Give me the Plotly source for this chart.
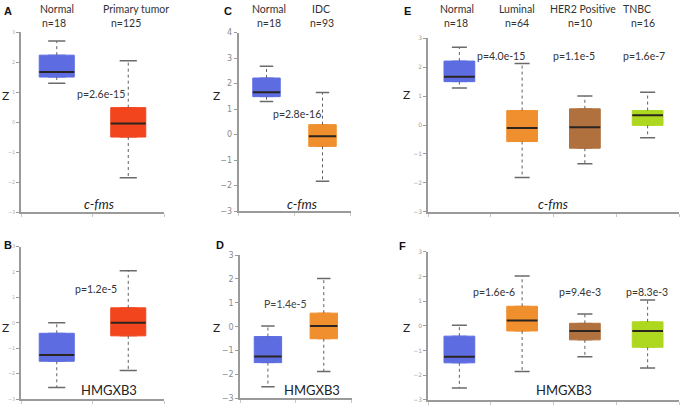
import plotly.graph_objects as go

W, H = 681, 411

# ---- data ----
# panel A : c-fms, normal vs primary tumor
a_groups = ["Normal", "Primary tumor"]
a_n = [18, 125]
a_lo = [1.30, -1.85]
a_q1 = [1.51, -0.49]
a_med = [1.68, -0.04]
a_q3 = [2.24, 0.49]
a_hi = [2.71, 2.05]

# panel B : HMGXB3, normal vs primary tumor
b_lo = [-2.54, -1.87]
b_q1 = [-1.51, -0.51]
b_med = [-1.26, 0.0]
b_q3 = [-0.41, 0.59]
b_hi = [0.0, 2.05]

# panel C : c-fms, normal vs IDC
c_groups = ["Normal", "IDC"]
c_n = [18, 93]
c_lo = [1.30, -1.83]
c_q1 = [1.49, -0.46]
c_med = [1.66, -0.06]
c_q3 = [2.22, 0.39]
c_hi = [2.68, 1.65]

# panel D : HMGXB3, normal vs IDC
d_lo = [-2.51, -1.87]
d_q1 = [-1.50, -0.50]
d_med = [-1.24, 0.03]
d_q3 = [-0.41, 0.57]
d_hi = [0.03, 2.02]

# panel E : c-fms by subtype
e_groups = ["Normal", "Luminal", "HER2 Positive", "TNBC"]
e_n = [18, 64, 10, 16]
e_lo = [1.28, -1.81, -1.34, -0.44]
e_q1 = [1.50, -0.57, -0.80, -0.01]
e_med = [1.67, -0.10, -0.08, 0.34]
e_q3 = [2.21, 0.50, 0.56, 0.50]
e_hi = [2.69, 2.13, 1.00, 1.13]

# panel F : HMGXB3 by subtype
f_lo = [-2.52, -1.85, -1.25, -1.71]
f_q1 = [-1.50, -0.21, -0.57, -0.87]
f_med = [-1.25, 0.21, -0.21, -0.21]
f_q3 = [-0.42, 0.79, 0.10, 0.16]
f_hi = [0.02, 2.02, 0.48, 1.04]

p_a = ["p=2.6e-15"]
p_b = ["p=1.2e-5"]
p_c = ["p=2.8e-16"]
p_d = ["P=1.4e-5"]
p_e = ["p=4.0e-15", "p=1.1e-5", "p=1.6e-7"]
p_f = ["p=1.6e-6", "p=9.4e-3", "p=8.3e-3"]

BLUE = "#5566e0"
RED = "#f23c12"
ORANGE = "#f08a22"
BROWN = "#ad6a35"
LIME = "#aad614"

FONT = "Lato"
TXT = "#333333"


def px(x):
    return x / W


def py(y):
    return 1 - y / H


fig = go.Figure()

# panel geometry in pixels: left, right, top, bottom, y range
panels = [
    dict(key="1", x=(21, 164), y=(29, 213), yr=(-3, 3), tf=5, tc="#b0b0b0"),
    dict(key="2", x=(21, 164), y=(248, 404), yr=(-3, 3), tf=5, tc="#b0b0b0"),
    dict(key="3", x=(238.5, 350.5), y=(29.3, 211.7), yr=(-3, 4), tf=8, tc="#8a8a8a"),
    dict(key="4", x=(240, 351.7), y=(256.7, 403.3), yr=(-3, 3), tf=8, tc="#8a8a8a"),
    dict(key="5", x=(428, 679), y=(35, 212.5), yr=(-3, 3), tf=6, tc="#a0a0a0"),
    dict(key="6", x=(428, 679), y=(253.3, 404.7), yr=(-3, 3), tf=6, tc="#a0a0a0"),
]

boxes = [
    (a_lo, a_q1, a_med, a_q3, a_hi, [BLUE, RED]),
    (b_lo, b_q1, b_med, b_q3, b_hi, [BLUE, RED]),
    (c_lo, c_q1, c_med, c_q3, c_hi, [BLUE, ORANGE]),
    (d_lo, d_q1, d_med, d_q3, d_hi, [BLUE, ORANGE]),
    (e_lo, e_q1, e_med, e_q3, e_hi, [BLUE, ORANGE, BROWN, LIME]),
    (f_lo, f_q1, f_med, f_q3, f_hi, [BLUE, ORANGE, BROWN, LIME]),
]

layout = dict(
    width=W, height=H, margin=dict(l=0, r=0, t=0, b=0),
    paper_bgcolor="white", plot_bgcolor="white", showlegend=False,
    font=dict(family=FONT, color=TXT),
)

for p, (lo, q1, med, q3, hi, cols) in zip(panels, boxes):
    k = p["key"]
    n = len(lo)
    xa = "xaxis" if k == "1" else "xaxis" + k
    ya = "yaxis" if k == "1" else "yaxis" + k
    xr = "x" if k == "1" else "x" + k
    yr = "y" if k == "1" else "y" + k
    layout[xa] = dict(
        domain=[px(p["x"][0]), px(p["x"][1])], range=[-0.5, n - 0.5],
        anchor=yr, showgrid=False, zeroline=False, showline=True,
        linecolor="#9a9a9a", linewidth=1.5, ticks="outside", ticklen=3,
        tickcolor="#c8c8c8", tickvals=[i - 0.5 for i in range(n + 1)],
        ticktext=[""] * (n + 1), fixedrange=True,
    )
    yvals = list(range(p["yr"][0], p["yr"][1] + 1))
    layout[ya] = dict(
        domain=[py(p["y"][1]), py(p["y"][0])], range=list(p["yr"]),
        anchor=xr, showgrid=False, zeroline=False, showline=True,
        linecolor="#9a9a9a", linewidth=1.5, ticks="outside", ticklen=3,
        tickcolor="#9a9a9a", tickvals=yvals,
        tickfont=dict(size=p["tf"], color=p["tc"], family="DejaVu Sans"),
        fixedrange=True,
    )
    bw = 0.49
    cw = 0.12
    for i in range(n):
        # dotted whiskers
        fig.add_trace(go.Scatter(
            x=[i, i, None, i, i], y=[q3[i], hi[i], None, q1[i], lo[i]],
            mode="lines", line=dict(color="#606060", width=1, dash="dot"),
            xaxis=xr, yaxis=yr, hoverinfo="skip"))
        # whisker caps
        fig.add_trace(go.Scatter(
            x=[i - cw, i + cw, None, i - cw, i + cw],
            y=[hi[i], hi[i], None, lo[i], lo[i]],
            mode="lines", line=dict(color="#6a6a6a", width=1.5),
            xaxis=xr, yaxis=yr, hoverinfo="skip"))
        # box body
        fig.add_trace(go.Box(
            x=[i], q1=[q1[i]], median=[med[i]], q3=[q3[i]],
            lowerfence=[q1[i]], upperfence=[q3[i]], width=bw,
            fillcolor=cols[i], line=dict(color=cols[i], width=1),
            opacity=0.95, boxpoints=False, xaxis=xr, yaxis=yr,
            hoverinfo="skip"))
        # median
        fig.add_trace(go.Scatter(
            x=[i - bw / 2, i + bw / 2], y=[med[i], med[i]],
            mode="lines", line=dict(color="#2a2520", width=2),
            xaxis=xr, yaxis=yr, hoverinfo="skip"))

fig.update_layout(**layout)

ann = []


def text(x, y, s, size=10.5, italic=False, bold=False, color=TXT, family=FONT):
    if italic:
        s = "<i>" + s + "</i>"
    if bold:
        s = "<b>" + s + "</b>"
    ann.append(dict(x=px(x), y=py(y), xref="paper", yref="paper", text=s,
                    showarrow=False, xanchor="center", yanchor="middle",
                    font=dict(size=size, color=color, family=family)))


# panel letters
for lt, x, y in [("A", 8, 7), ("B", 8, 246), ("C", 228, 7), ("D", 220, 246),
                 ("E", 407, 7), ("F", 402, 247)]:
    text(x, y, lt, size=11, bold=True, color="#111111", family="Liberation Sans")

# Z axis titles
for x, y in [(5, 94), (217, 94), (406, 93), (5, 331), (217, 331), (406, 331)]:
    text(x, y, "Z", size=12, color="#222222")

# group headers
for g, nn, xg, xn in zip(a_groups, a_n, [57, 136], [54, 126]):
    text(xg, 5, g)
    text(xn, 19, "n=%d" % nn)
for g, nn, xg, xn in zip(c_groups, c_n, [269, 321], [269, 322]):
    text(xg, 5, g)
    text(xn, 19, "n=%d" % nn)
for g, nn, xg, xn in zip(e_groups, e_n, [457, 517, 583, 637], [456, 517, 580, 643]):
    text(xg, 5, g)
    text(xn, 19, "n=%d" % nn)

# p values
text(101, 92, p_a[0])
text(96, 291, p_b[0])
text(297, 112, p_c[0])
text(285, 307, p_d[0], color="#444444")
for s, x in zip(p_e, [501, 574, 644]):
    text(x, 53, s)
for s, x in zip(p_f, [494, 580, 647]):
    text(x, 294, s)

# gene names
for x in [99, 302, 553]:
    text(x, 204, "c-fms", size=13, italic=True, color="#222222")
for x in [109, 312, 564]:
    text(x, 395, "HMGXB3", size=13, color="#222222")

fig.update_layout(annotations=ann)
# page body has a default 8px margin; drop it so the figure sits at 0,0
fig.write_html("out.html", config={"displayModeBar": False},
               post_script="document.body.style.margin='0';")
